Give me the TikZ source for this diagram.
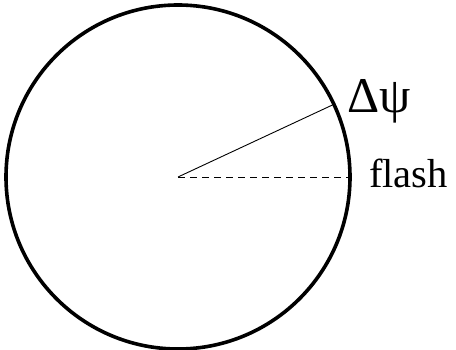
\documentclass[tikz,border=0pt]{standalone}
\usepackage{fontspec}
\setmainfont{Liberation Serif}
\begin{document}
\begin{tikzpicture}[x=1pt,y=-1pt,
  rim/.style={circle,draw,line width=3.6pt,minimum size=344pt,inner sep=0pt,outer sep=0pt},
  ray/.style={line width=0.9pt},
  flashray/.style={line width=0.9pt,dash pattern=on 7pt off 5pt},
  lbl/.style={inner sep=0pt,anchor=base west}]
\useasboundingbox (0,0) rectangle (456,350);
\coordinate (c) at (178,177);
\node[rim] (circ) at (c) {};
\draw[ray] (c) -- (circ.25);
\draw[flashray] (c) -- ([xshift=2pt]circ.east);
\node[lbl,font=\fontsize{50}{54}\selectfont] (dpsi) at (347,113) {Δψ};
\node[lbl,font=\fontsize{40.5}{44}\selectfont] (flash) at (369,188) {flash};
\end{tikzpicture}
\end{document}
